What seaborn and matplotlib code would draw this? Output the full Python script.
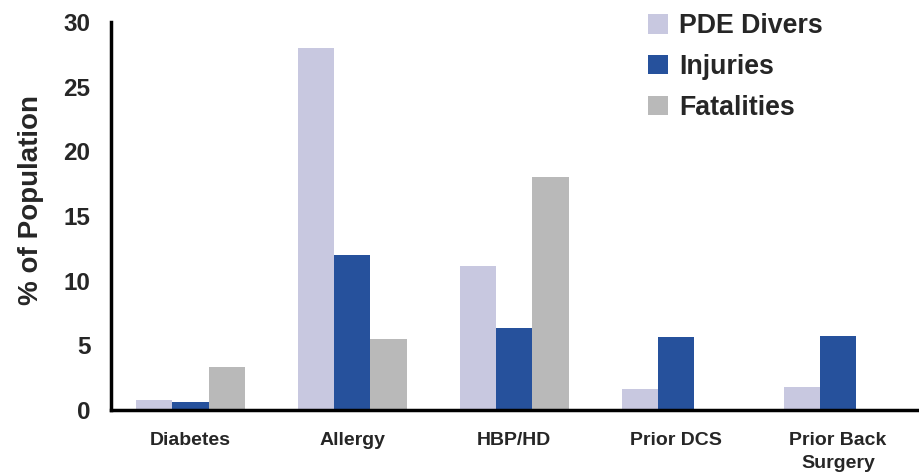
import matplotlib
matplotlib.use("Agg")
import matplotlib.pyplot as plt
import seaborn as sns
import pandas as pd

categories = ["Diabetes", "Allergy", "HBP/HD", "Prior DCS", "Prior Back\nSurgery"]
series_names = ["PDE Divers", "Injuries", "Fatalities"]
pde_divers = [0.8, 28.0, 11.1, 1.6, 1.8]
injuries = [0.6, 12.0, 6.3, 5.6, 5.7]
fatalities = [3.3, 5.5, 18.0, 0.0, 0.0]
colors = ["#C8C8E0", "#26519C", "#B9B9B9"]

rows = []
for name, vals in zip(series_names, [pde_divers, injuries, fatalities]):
    for c, v in zip(categories, vals):
        rows.append({"Category": c, "Series": name, "Value": v})
df = pd.DataFrame(rows)

sns.set_style("white")
plt.rcParams["font.family"] = ["Liberation Sans", "DejaVu Sans"]
plt.rcParams["font.weight"] = "bold"

fig = plt.figure(figsize=(9.19, 4.75), dpi=100)
ax = fig.add_axes([0.121, 0.137, 0.879, 0.817])
sns.barplot(data=df, x="Category", y="Value", hue="Series", order=categories,
            hue_order=series_names, palette=colors, width=0.67, saturation=1,
            edgecolor="none", linewidth=0, ax=ax)

ax.set_ylim(0, 30)
ax.set_xlim(-0.49, 4.5)
ax.set_yticks([0, 5, 10, 15, 20, 25, 30])
ax.set_xlabel("")
ax.set_ylabel("% of Population", fontsize=20, fontweight="bold", labelpad=14)
ax.yaxis.label.set_y(0.541)
for s in ["top", "right"]:
    ax.spines[s].set_visible(False)
for s in ["left", "bottom"]:
    ax.spines[s].set_linewidth(2.5)
    ax.spines[s].set_color("black")
ax.tick_params(axis="y", direction="in", length=9, width=2.5, labelsize=17.5, pad=15)
ax.tick_params(axis="x", length=0, labelsize=14, pad=16)
for lab in ax.get_xticklabels() + ax.get_yticklabels():
    lab.set_fontweight("bold")
for lab in ax.get_xticklabels():
    lab.set_linespacing(1.45)

handles, labels = ax.get_legend_handles_labels()
ax.legend(handles, labels, loc="upper left", bbox_to_anchor=(0.679, 1.023),
          bbox_transform=fig.transFigure, frameon=False,
          handlelength=0.75, handleheight=0.75, handletextpad=0.4,
          labelspacing=0.55, prop={"weight": "bold", "size": 19.3})

fig.savefig("out.png", dpi=100)
